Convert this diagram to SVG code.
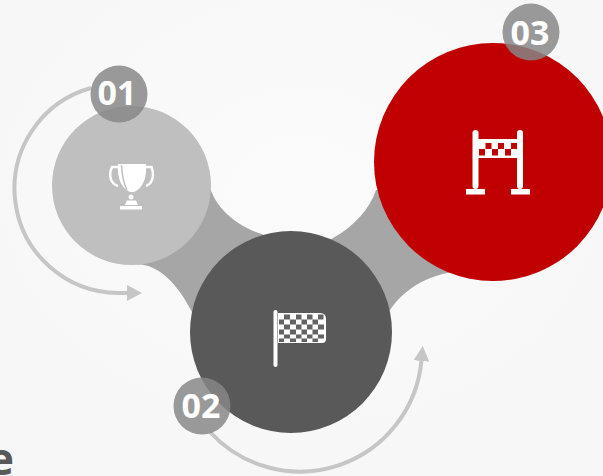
<svg xmlns="http://www.w3.org/2000/svg" width="603" height="476" viewBox="0 0 603 476">
<defs>
<radialGradient id="bg" cx="50%" cy="40%" r="60%"><stop offset="0" stop-color="#fbfbfb"/><stop offset="1" stop-color="#f7f7f7"/></radialGradient>
<marker id="ah" markerWidth="16" markerHeight="16" refX="1" refY="8" orient="auto" markerUnits="userSpaceOnUse"><path d="M0 0L15 8L0 16Z" fill="#c6c6c6"/></marker>
</defs>
<style>
.arc{fill:none;stroke:#c6c6c6;stroke-width:4}
.badge{fill:#878787;fill-opacity:.84}
.num{font-family:"Open Sans","Noto Sans",sans-serif;font-weight:700;font-size:34px;fill:#fff;text-anchor:middle}
.ic{fill:#fff}
</style>
<rect width="603" height="476" fill="url(#bg)"/>
<text x="-12" y="475" font-family="'Open Sans',sans-serif" font-weight="700" font-size="44" fill="#595959">e</text>
<g id="connectors">
<path d="M208 180C212 205 235 226 262 234L280 245L320 245L333 238C355 226 370 208 376 190L440 200L470 270C430 272 405 288 390 310L350 340L210 340L192 312C178 285 160 264 135 264Z" fill="#a6a6a6"/>
<path class="arc" d="M91 88A104.400 104.400 0 0 0 118 293H128" marker-end="url(#ah)"/>
<path class="arc" d="M210 432A122 122 0 0 0 421.500 360" marker-end="url(#ah)"/>
</g>
<g id="node-01">
<circle cx="131.500" cy="185.500" r="79.500" fill="#bfbfbf"/>
<path class="ic" d="M118 164H146C147 178 143 188 134 192H130C121 188 117 178 118 164Z"/>
<path d="M121.500 165C122 176 124 184 127 190" fill="none" stroke="#bfbfbf" stroke-width="1.500"/>
<path d="M118 167H112C108 176 111 184 118 186M146 167H151.500C155 176 152 184 146 186" fill="none" stroke="#fff" stroke-width="2.500"/>
<circle class="ic" cx="131" cy="197" r="2.500"/>
<path class="ic" d="M127 200.500H136L138 205H125Z"/>
<rect class="ic" x="120" y="206" width="22" height="3.500"/>
</g>
<g id="node-02">
<circle cx="291" cy="332" r="101" fill="#595959"/>
<rect x="273.500" y="310" width="4" height="57" rx="2" class="ic"/>
<path d="M278 313H320Q326 313 326 319V339Q326 343 322 343H278Z" fill="#fff"/>
<path fill="#636363" d="M284 314.500h6v5h-6zM296 314.500h5.500v5h-5.500zM307 314.500h5.500v5h-5.500zM318 314.500h5.500v5h-5.500zM279 319.500h5v5h-5zM290 319.500h6v5h-6zM301.500 319.500h5.500v5h-5.500zM312.500 319.500h5.500v5h-5.500zM284 324.500h6v5h-6zM296 324.500h5.500v5h-5.500zM307 324.500h5.500v5h-5.500zM318 324.500h6v5h-6zM279 329.500h5v5h-5zM290 329.500h6v5h-6zM301.500 329.500h5.500v5h-5.500zM312.500 329.500h5.500v5h-5.500zM284 334.500h6v4h-6zM296 334.500h5.500v4h-5.500zM307 334.500h5.500v4h-5.500zM318 334.500h6v4h-6zM279 338.500h5v3.500h-5zM290 338.500h6v3.500h-6zM301.500 338.500h5.500v3.500h-5.500zM312.500 338.500h5.500v3.500h-5.500z"/>
</g>
<g id="node-03">
<circle cx="493" cy="162" r="119" fill="#c00000"/>
<rect class="ic" x="472.500" y="130" width="6" height="59" rx="3"/>
<rect class="ic" x="517" y="130" width="6" height="59" rx="3"/>
<rect class="ic" x="478" y="139" width="40" height="19"/>
<rect class="ic" x="466" y="189" width="19" height="5.500"/>
<rect class="ic" x="511" y="189" width="19" height="5.500"/>
<path d="M485.500 143h6v6h-6zM498 143h6v6h-6zM511 143h6v6h-6zM479 149h6v6.500h-6zM492 149h6v6.500h-6zM505 149h6v6.500h-6z" fill="#c00000"/>
</g>
<g id="badge-01"><circle class="badge" cx="119" cy="94" r="28.500"/><text class="num" x="117" y="105">01</text></g>
<g id="badge-02"><circle class="badge" cx="202" cy="406" r="28.500"/><text class="num" x="201" y="418">02</text></g>
<g id="badge-03"><circle class="badge" cx="531" cy="32" r="28.500"/><text class="num" x="530" y="45">03</text></g>
</svg>
